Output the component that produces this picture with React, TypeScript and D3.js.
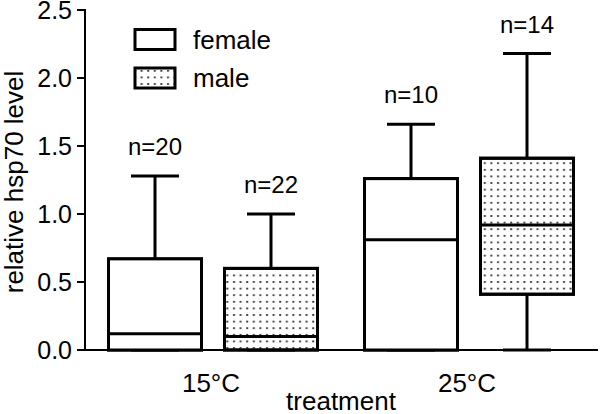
import React from "react";
import * as d3 from "d3";

const categories = ["15°C", "25°C"];
const groups = ["female", "male"];
// per group: [category index][group index]
const whiskerLow = [[0, 0], [0, 0]];
const q1 = [[0, 0], [0, 0.41]];
const medians = [[0.12, 0.1], [0.81, 0.92]];
const q3 = [[0.67, 0.6], [1.26, 1.41]];
const whiskerHigh = [[1.28, 1.0], [1.66, 2.18]];
const nLabels = [["n=20", "n=22"], ["n=10", "n=14"]];
const yTicks = [0, 0.5, 1.0, 1.5, 2.0, 2.5];

const W = 600;
const H = 414;
const FONT = "Liberation Sans, Arial, sans-serif";

export default function App() {
  const y = d3.scaleLinear().domain([0, 2.5]).range([350, 10]);
  const x = d3.scaleBand().domain(categories).range([85, 597]);
  const sub = d3.scalePoint().domain(groups).range([-58, 58]);
  const boxW = 93;
  const capW = 48;

  const boxes: any[] = [];
  categories.forEach((c, ci) => {
    groups.forEach((g, gi) => {
      const cx = (x(c) as number) + x.bandwidth() / 2 + (sub(g) as number);
      boxes.push({ c, g, ci, gi, cx });
    });
  });

  return (
    <svg
      width={W}
      height={H}
      style={{ position: "absolute", left: 0, top: 0, background: "#fff" }}
      fontFamily={FONT}
    >
      <defs>
        <pattern id="dots" width={6.6} height={6.6} patternUnits="userSpaceOnUse" x={0} y={2}>
          <rect x={2} y={2} width={2} height={1.6} fill="#222" />
        </pattern>
      </defs>
      <rect width={W} height={H} fill="#fff" />

      {/* Boxes */}
      {boxes.map((b, i) => {
        const fill = b.g === "male" ? "url(#dots)" : "#fff";
        const yHi = y(whiskerHigh[b.ci][b.gi]);
        const yLo = y(whiskerLow[b.ci][b.gi]);
        const yQ3 = y(q3[b.ci][b.gi]);
        const yQ1 = y(q1[b.ci][b.gi]);
        const yMed = y(medians[b.ci][b.gi]);
        return (
          <g key={i} stroke="#000" strokeWidth={3}>
            <line x1={b.cx} x2={b.cx} y1={yHi} y2={yQ3} />
            <line x1={b.cx - capW / 2} x2={b.cx + capW / 2} y1={yHi} y2={yHi} />
            <line x1={b.cx} x2={b.cx} y1={yQ1} y2={yLo} />
            <line x1={b.cx - capW / 2} x2={b.cx + capW / 2} y1={yLo} y2={yLo} />
            <rect x={b.cx - boxW / 2} y={yQ3} width={boxW} height={yQ1 - yQ3} fill="#fff" />
            <rect x={b.cx - boxW / 2} y={yQ3} width={boxW} height={yQ1 - yQ3} fill={fill} />
            <line x1={b.cx - boxW / 2} x2={b.cx + boxW / 2} y1={yMed} y2={yMed} />
            <text
              x={b.cx}
              y={yHi - 21}
              textAnchor="middle"
              fontSize={24}
              stroke="none"
              fill="#000"
            >
              {nLabels[b.ci][b.gi]}
            </text>
          </g>
        );
      })}

      {/* Y axis */}
      <line x1={85} x2={85} y1={9} y2={351} stroke="#000" strokeWidth={2} />
      {yTicks.map((t) => (
        <g key={t}>
          <line x1={77} x2={85} y1={y(t)} y2={y(t)} stroke="#000" strokeWidth={2} />
          <text x={72} y={y(t)} dy="0.35em" textAnchor="end" fontSize={25} fill="#000">
            {d3.format(".1f")(t)}
          </text>
        </g>
      ))}
      {/* X axis */}
      <line x1={84} x2={598} y1={350} y2={350} stroke="#000" strokeWidth={2} />
      {categories.map((c) => (
        <text
          key={c}
          x={(x(c) as number) + x.bandwidth() / 2 - 2}
          y={392}
          textAnchor="middle"
          fontSize={26}
          fill="#000"
        >
          {c}
        </text>
      ))}
      <text x={341} y={410} textAnchor="middle" fontSize={26} fill="#000">
        treatment
      </text>
      <text
        transform={`translate(23,182) rotate(-90)`}
        textAnchor="middle"
        fontSize={26}
        fill="#000"
      >
        relative hsp70 level
      </text>

      {/* Legend */}
      {groups.map((g, i) => (
        <g key={g}>
          <rect
            x={135}
            y={29.5 + i * 38.5}
            width={40}
            height={20}
            fill={g === "male" ? "url(#dots)" : "#fff"}
            stroke="#000"
            strokeWidth={3}
          />
          <text x={193} y={48.5 + i * 38.5} fontSize={26} fill="#000">
            {g}
          </text>
        </g>
      ))}
    </svg>
  );
}
